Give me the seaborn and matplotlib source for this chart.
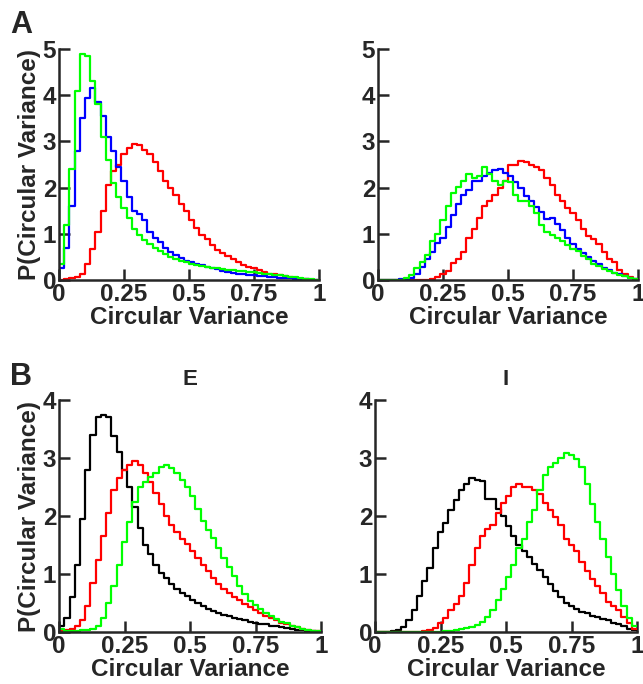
import numpy as np
import pandas as pd
import seaborn as sns
import matplotlib
matplotlib.use("Agg")
import matplotlib.pyplot as plt

# bins de largura 0.02 entre 0 e 1
bordas = np.linspace(0, 1, 51)
centros = (bordas[:-1] + bordas[1:]) / 2

# --- painel A, esquerda ---
a_esq_vermelho = [0.0, 0.02, 0.05, 0.07, 0.12, 0.35, 0.68, 1.05, 1.5, 2.05,
                  2.35, 2.5, 2.72, 2.85, 2.95, 2.92, 2.82, 2.72, 2.55, 2.35,
                  2.15, 2.0, 1.85, 1.65, 1.5, 1.3, 1.12, 0.98, 0.88, 0.76,
                  0.66, 0.58, 0.52, 0.45, 0.38, 0.33, 0.29, 0.25, 0.21, 0.17,
                  0.14, 0.12, 0.1, 0.08, 0.06, 0.05, 0.03, 0.02, 0.01, 0.005]
a_esq_azul = [0.25, 0.7, 1.6, 2.8, 3.5, 3.95, 4.15, 3.85, 3.55, 3.1,
              2.8, 2.45, 2.15, 1.8, 1.5, 1.42, 1.3, 1.05, 0.92, 0.82,
              0.7, 0.6, 0.55, 0.48, 0.42, 0.38, 0.35, 0.32, 0.29, 0.26,
              0.23, 0.2, 0.18, 0.16, 0.14, 0.12, 0.11, 0.1, 0.09, 0.08,
              0.07, 0.06, 0.05, 0.04, 0.035, 0.03, 0.02, 0.015, 0.01, 0.005]
a_esq_verde = [0.35, 1.2, 2.4, 4.1, 4.9, 4.85, 4.3, 3.8, 3.1, 2.6,
               2.1, 1.8, 1.55, 1.35, 1.1, 0.97, 0.87, 0.78, 0.69, 0.62,
               0.56, 0.5, 0.46, 0.42, 0.38, 0.35, 0.33, 0.31, 0.29, 0.27,
               0.25, 0.23, 0.22, 0.21, 0.2, 0.19, 0.18, 0.17, 0.15, 0.14,
               0.12, 0.11, 0.1, 0.09, 0.07, 0.06, 0.05, 0.03, 0.02, 0.01]

# --- painel A, direita ---
a_dir_vermelho = [0, 0, 0, 0, 0, 0, 0, 0, 0, 0.01,
                  0.03, 0.06, 0.12, 0.2, 0.36, 0.45, 0.6, 0.9, 1.1, 1.35,
                  1.6, 1.72, 1.85, 2.0, 2.15, 2.5, 2.5, 2.58, 2.55, 2.48,
                  2.45, 2.38, 2.2, 2.05, 1.85, 1.7, 1.55, 1.45, 1.3, 1.1,
                  0.95, 0.88, 0.78, 0.6, 0.45, 0.38, 0.22, 0.12, 0.06, 0.03]
a_dir_azul = [0, 0, 0, 0.01, 0.02, 0.03, 0.05, 0.12, 0.28, 0.45,
              0.6, 0.8, 0.92, 1.15, 1.4, 1.65, 1.85, 1.95, 2.15, 2.15,
              2.25, 2.32, 2.38, 2.4, 2.32, 2.25, 2.12, 2.0, 1.82, 1.7,
              1.58, 1.48, 1.32, 1.35, 1.22, 1.08, 0.9, 0.78, 0.68, 0.58,
              0.5, 0.42, 0.34, 0.27, 0.22, 0.16, 0.12, 0.08, 0.05, 0.03]
a_dir_verde = [0, 0, 0, 0, 0.01, 0.04, 0.1, 0.25, 0.4, 0.55,
               0.85, 1.0, 1.3, 1.6, 1.88, 2.02, 2.15, 2.3, 2.2, 2.25,
               2.45, 2.3, 2.15, 2.05, 2.15, 2.12, 1.85, 1.72, 1.7, 1.6,
               1.45, 1.2, 1.05, 0.98, 0.92, 0.85, 0.75, 0.68, 0.62, 0.52,
               0.45, 0.35, 0.3, 0.24, 0.2, 0.15, 0.11, 0.08, 0.05, 0.03]

# --- painel B, E ---
b_e_preto = [0.1, 0.25, 0.6, 1.15, 1.95, 2.8, 3.4, 3.7, 3.75, 3.7,
             3.38, 3.1, 2.8, 2.5, 2.15, 1.8, 1.5, 1.35, 1.15, 1.02,
             0.93, 0.83, 0.75, 0.68, 0.62, 0.56, 0.5, 0.45, 0.4, 0.37,
             0.33, 0.3, 0.27, 0.25, 0.23, 0.2, 0.18, 0.16, 0.14, 0.13,
             0.11, 0.1, 0.08, 0.07, 0.05, 0.04, 0.03, 0.02, 0.01, 0.005]
b_e_vermelho = [0.02, 0.04, 0.06, 0.1, 0.2, 0.45, 0.85, 1.25, 1.65, 2.05,
                2.45, 2.65, 2.8, 2.88, 2.95, 2.88, 2.75, 2.58, 2.4, 2.2,
                2.0, 1.85, 1.72, 1.6, 1.52, 1.4, 1.28, 1.16, 1.05, 0.93,
                0.83, 0.74, 0.67, 0.61, 0.55, 0.49, 0.43, 0.38, 0.33, 0.28,
                0.24, 0.2, 0.16, 0.13, 0.1, 0.08, 0.06, 0.04, 0.02, 0.01]
b_e_verde = [0.05, 0.01, 0.01, 0.02, 0.03, 0.04, 0.05, 0.1, 0.25, 0.5,
             0.8, 1.15, 1.55, 1.9, 2.25, 2.5, 2.58, 2.68, 2.75, 2.85,
             2.88, 2.82, 2.75, 2.62, 2.5, 2.35, 2.12, 1.92, 1.76, 1.62,
             1.45, 1.28, 1.12, 0.97, 0.8, 0.65, 0.53, 0.46, 0.39, 0.32,
             0.27, 0.22, 0.18, 0.15, 0.11, 0.08, 0.06, 0.04, 0.02, 0.01]

# --- painel B, I ---
b_i_preto = [0, 0, 0.005, 0.01, 0.03, 0.08, 0.2, 0.38, 0.62, 0.88,
             1.1, 1.45, 1.72, 1.88, 2.1, 2.28, 2.45, 2.55, 2.65, 2.62,
             2.6, 2.3, 2.3, 2.12, 2.0, 1.82, 1.65, 1.5, 1.4, 1.3,
             1.18, 1.07, 0.95, 0.82, 0.7, 0.6, 0.5, 0.44, 0.39, 0.35,
             0.32, 0.28, 0.26, 0.23, 0.2, 0.16, 0.13, 0.1, 0.06, 0.03]
b_i_vermelho = [0, 0, 0, 0, 0, 0, 0, 0, 0, 0.01,
                0.03, 0.07, 0.15, 0.25, 0.38, 0.48, 0.62, 0.85, 1.15, 1.45,
                1.65, 1.78, 1.85, 2.05, 2.22, 2.35, 2.5, 2.55, 2.5, 2.5,
                2.45, 2.38, 2.22, 2.1, 1.98, 1.85, 1.6, 1.5, 1.4, 1.2,
                1.05, 0.92, 0.8, 0.68, 0.52, 0.45, 0.38, 0.26, 0.15, 0.06]
b_i_verde = [0, 0, 0, 0, 0, 0, 0, 0, 0, 0,
             0, 0, 0, 0.01, 0.02, 0.03, 0.05, 0.07, 0.09, 0.12,
             0.18, 0.26, 0.38, 0.55, 0.75, 0.95, 1.15, 1.45, 1.6, 1.9,
             2.1, 2.45, 2.7, 2.85, 2.92, 3.0, 3.08, 3.05, 2.98, 2.85,
             2.55, 2.2, 1.9, 1.6, 1.3, 1.0, 0.72, 0.45, 0.25, 0.1]

paineis = [
    dict(pos=[0.0918, 0.5906, 0.4044, 0.3377], ymax=5, titulo=None, ylabel=True,
         series=[(a_esq_vermelho, "#ff0000"), (a_esq_azul, "#0000ff"), (a_esq_verde, "#00ff00")]),
    dict(pos=[0.5879, 0.5906, 0.4044, 0.3377], ymax=5, titulo=None, ylabel=False,
         series=[(a_dir_vermelho, "#ff0000"), (a_dir_azul, "#0000ff"), (a_dir_verde, "#00ff00")]),
    dict(pos=[0.0918, 0.076, 0.4075, 0.3392], ymax=4, titulo="E", ylabel=True,
         series=[(b_e_preto, "#000000"), (b_e_vermelho, "#ff0000"), (b_e_verde, "#00ff00")]),
    dict(pos=[0.5832, 0.076, 0.4075, 0.3392], ymax=4, titulo="I", ylabel=False,
         series=[(b_i_preto, "#000000"), (b_i_vermelho, "#ff0000"), (b_i_verde, "#00ff00")]),
]

sns.set_style("ticks")
plt.rcParams['font.family'] = ['Liberation Sans', 'DejaVu Sans']
plt.rcParams['font.weight'] = 'bold'

fig = plt.figure(figsize=(6.43, 6.84), dpi=100)

for p in paineis:
    ax = fig.add_axes(p["pos"])
    for valores, cor in p["series"]:
        df = pd.DataFrame({"cv": centros, "p": valores})
        sns.histplot(data=df, x="cv", weights="p", binwidth=0.02, binrange=(0, 1),
                     element="step", fill=False, color=cor, linewidth=1.6, ax=ax)
    ax.set_xlim(0, 1)
    ax.set_ylim(0, p["ymax"])
    ax.set_xticks([0, 0.25, 0.5, 0.75, 1])
    ax.set_xticklabels(["0", "0.25", "0.5", "0.75", "1"])
    ax.set_yticks(range(p["ymax"] + 1))
    ax.tick_params(direction="in", length=8, width=1.8, labelsize=17.5, pad=2)
    for s in ["top", "right"]:
        ax.spines[s].set_visible(False)
    for s in ["left", "bottom"]:
        ax.spines[s].set_linewidth(1.8)
    ax.set_xlabel("Circular Variance", fontsize=17.5, fontweight="bold", labelpad=0)
    if p["ylabel"]:
        ax.set_ylabel("P(Circular Variance)", fontsize=17.5, fontweight="bold", labelpad=1)
    else:
        ax.set_ylabel("")
    if p["titulo"]:
        ax.set_title(p["titulo"], fontsize=16, fontweight="bold", pad=11)

fig.text(0.016, 0.952, "A", fontsize=22, fontweight="bold")
fig.text(0.016, 0.437, "B", fontsize=22, fontweight="bold")

fig.savefig("out.png", dpi=100)
